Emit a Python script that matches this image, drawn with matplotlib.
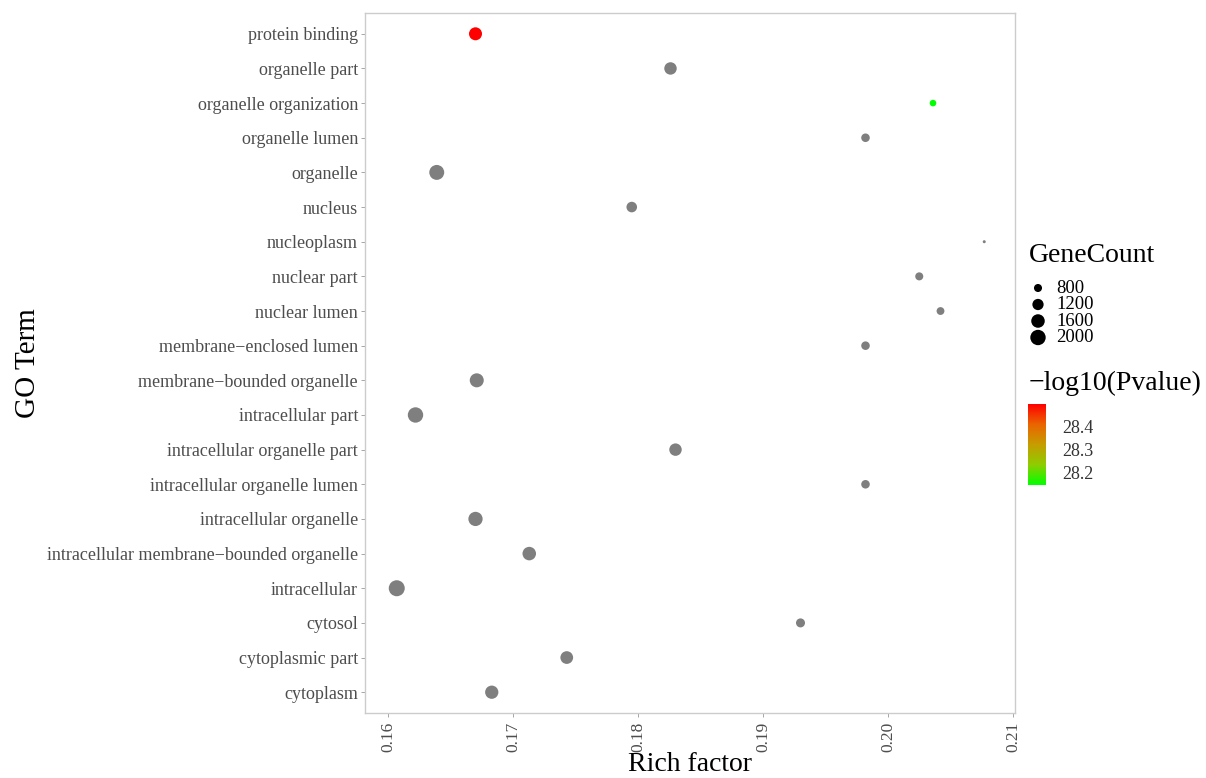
import numpy as np
import matplotlib
matplotlib.use("Agg")
import matplotlib.pyplot as plt
from matplotlib.colors import LinearSegmentedColormap, Normalize
from matplotlib.cm import ScalarMappable

plt.rcParams['font.family'] = ['Liberation Serif', 'DejaVu Serif']

# GO terms, top to bottom
terms = ["protein binding", "organelle part", "organelle organization", "organelle lumen",
         "organelle", "nucleus", "nucleoplasm", "nuclear part", "nuclear lumen",
         "membrane\u2212enclosed lumen", "membrane\u2212bounded organelle", "intracellular part",
         "intracellular organelle part", "intracellular organelle lumen", "intracellular organelle",
         "intracellular membrane\u2212bounded organelle", "intracellular", "cytosol",
         "cytoplasmic part", "cytoplasm"]
rich = [0.1670, 0.1826, 0.2036, 0.1982, 0.1639, 0.1795, 0.2077, 0.2025, 0.2042, 0.1982,
        0.1671, 0.1622, 0.1830, 0.1982, 0.1670, 0.1713, 0.1607, 0.1930, 0.1743, 0.1683]
counts = [1500, 1400, 680, 850, 1900, 1100, 560, 800, 780, 850,
          1700, 2000, 1400, 850, 1750, 1600, 2150, 900, 1450, 1550]
# -log10(Pvalue); None = not available (drawn grey)
pval = [28.50, None, 28.145, None, None, None, None, None, None, None,
        None, None, None, None, None, None, None, None, None, None]

size_breaks = [800, 1200, 1600, 2000]
cbar_ticks = [28.2, 28.3, 28.4]

cmin, cmax = min(counts), max(counts)

def marker_area(v):
    d_px = 3 + 13 * np.sqrt(max(v - cmin, 0) / (cmax - cmin))
    return (d_px * 0.72) ** 2

cmap = LinearSegmentedColormap.from_list(
    "gr", ["#00ff00", "#8fcc00", "#c69c00", "#ea6400", "#ff0000"])
norm = Normalize(vmin=28.145, vmax=28.50)

fig = plt.figure(figsize=(12.06, 7.78), dpi=100)
ax = fig.add_axes([365 / 1206, 1 - 713 / 778, 650 / 1206, 700 / 778])

n = len(terms)
ypos = np.arange(n)[::-1] + 1
for x, y, c, p in zip(rich, ypos, counts, pval):
    col = "#7f7f7f" if p is None else cmap(norm(p))
    ax.scatter(x, y, s=marker_area(c), color=col, edgecolors="none", zorder=3)

ax.set_xlim(0.15816, 0.21016)
ax.set_ylim(0.4, n + 0.6)
ax.set_yticks(ypos)
ax.set_yticklabels(terms, fontsize=13.0, color="#4d4d4d")
ax.set_xticks([0.16, 0.17, 0.18, 0.19, 0.20, 0.21])
ax.set_xticklabels(["0.16", "0.17", "0.18", "0.19", "0.20", "0.21"],
                   rotation=90, fontsize=12.5, color="#4d4d4d")
ax.tick_params(length=3, color="#999999", width=0.6)
ax.tick_params(axis="y", pad=2)
for sp in ax.spines.values():
    sp.set_color("#cccccc")
    sp.set_linewidth(1.0)
ax.set_xlabel("Rich factor", fontsize=20, labelpad=0)
ax.set_ylabel("GO Term", fontsize=21, labelpad=4)

# size legend
fig.text(1029 / 1206, 1 - 255 / 778, "GeneCount", fontsize=20, va="center", ha="left")
lax = fig.add_axes([1028 / 1206, 1 - 346 / 778, 70 / 1206, 68 / 778])
lax.set_xlim(0, 70)
lax.set_ylim(68, 0)
lax.axis("off")
for i, b in enumerate(size_breaks):
    yy = 10 + i * 16.5
    lax.scatter(10, yy, s=marker_area(b), color="black", edgecolors="none")
    lax.text(28, yy, str(b), fontsize=13.5, va="center", ha="left")

# colour bar
fig.text(1029 / 1206, 1 - 383 / 778, "\u2212log10(Pvalue)", fontsize=20, va="center", ha="left")
cax = fig.add_axes([1028 / 1206, 1 - 485 / 778, 18 / 1206, 81 / 778])
cb = fig.colorbar(ScalarMappable(norm=norm, cmap=cmap), cax=cax, ticks=cbar_ticks)
cb.outline.set_visible(False)
cb.ax.tick_params(length=4, color="white", width=0.8, labelsize=13, labelcolor="#333333", pad=8)
cb.ax.set_yticklabels([f"{t:.1f}" for t in cbar_ticks])

fig.savefig("out.png", dpi=100, facecolor="white")
